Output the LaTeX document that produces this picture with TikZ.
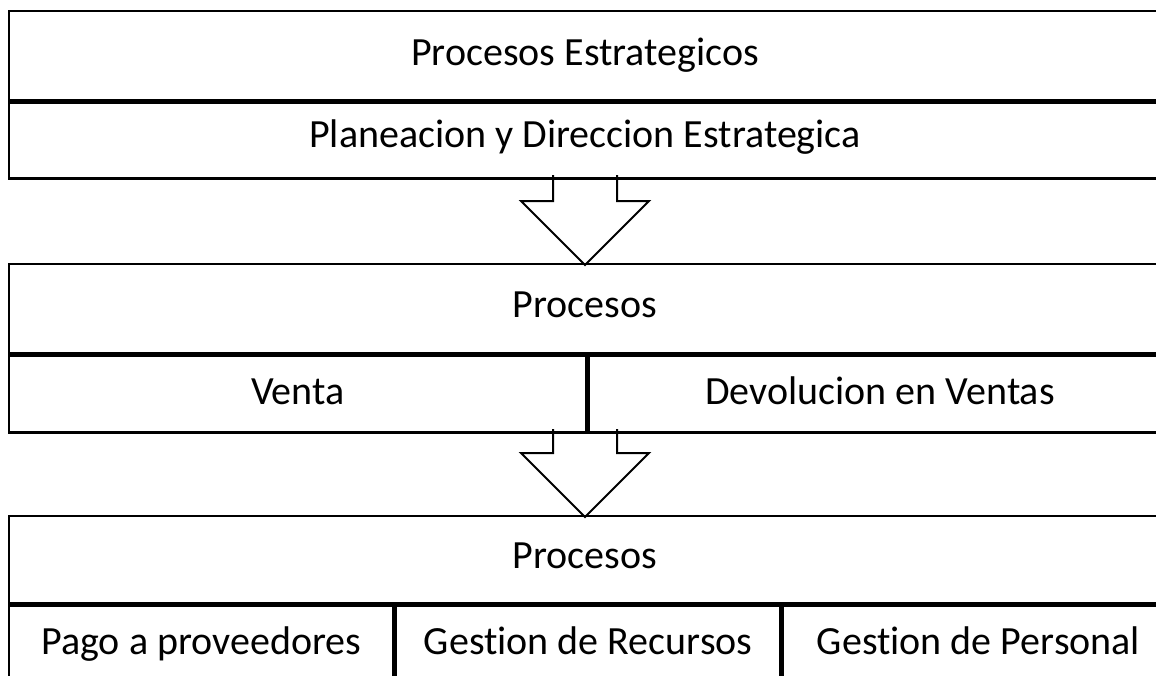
\documentclass[tikz,border=0pt]{standalone}
\usepackage{fontspec}
\setmainfont{Carlito}[Ligatures=NoCommon]
\usetikzlibrary{positioning}
\tikzset{
  cell/.style={draw, line width=2.4pt, inner sep=0pt, anchor=north west,
    text height=28pt, text depth=8pt, font=\fontsize{40}{44}\selectfont},
  lbl/.style={text height=28pt, text depth=8pt, font=\fontsize{40}{44}\selectfont},
  bigarrow/.style={draw, fill=white, line width=2pt, line join=miter}
}
\begin{document}
\begin{tikzpicture}[x=1pt, y=-1pt]
\useasboundingbox (0,0) rectangle (1156,675);
\clip (0,0) rectangle (1156,675);
%
\draw[bigarrow] (553,175) -- (553,201) -- (521,201) -- (585,265) -- (649,201) -- (617,201) -- (617,175); % Flecha 1
\draw[bigarrow] (553,429) -- (553,453) -- (521,453) -- (585,517) -- (649,453) -- (617,453) -- (617,429); % Flecha 2
%
% Estrategicos
\node[cell, minimum width=1160pt, minimum height=89pt] (est) at (8,10) {};
\node[lbl] (estlbl) at (585,55) {Procesos Estrategicos};
\node[cell, minimum width=1160pt, minimum height=76pt] (plan) at (est.south west) {};
\node[lbl] (planlbl) at (585,137) {Planeacion y Direccion Estrategica};
%
\node[cell, minimum width=1160pt, minimum height=89pt] (proc) at (8,263) {};
\node[lbl] (proclbl) at (585,307) {Procesos};
\node[cell, minimum width=577pt, minimum height=77pt] (venta) at (proc.south west) {Venta};
\node[cell, minimum width=583pt, minimum height=77pt, right=0pt of venta.north east, anchor=north west] (dev) {Devolucion en Ventas};
%
\node[cell, minimum width=1160pt, minimum height=87pt] (apoyo) at (8,515) {};
\node[lbl] (apoyolbl) at (585,558) {Procesos};
\node[cell, minimum width=384pt, minimum height=78pt] (pago) at (apoyo.south west) {Pago a proveedores};
\node[cell, minimum width=385pt, minimum height=78pt, anchor=north west] (rec) at (pago.north east) {Gestion de Recursos};
\node[cell, minimum width=391pt, minimum height=78pt, anchor=north west] (pers) at (rec.north east) {Gestion de Personal};
\end{tikzpicture}
\end{document}
